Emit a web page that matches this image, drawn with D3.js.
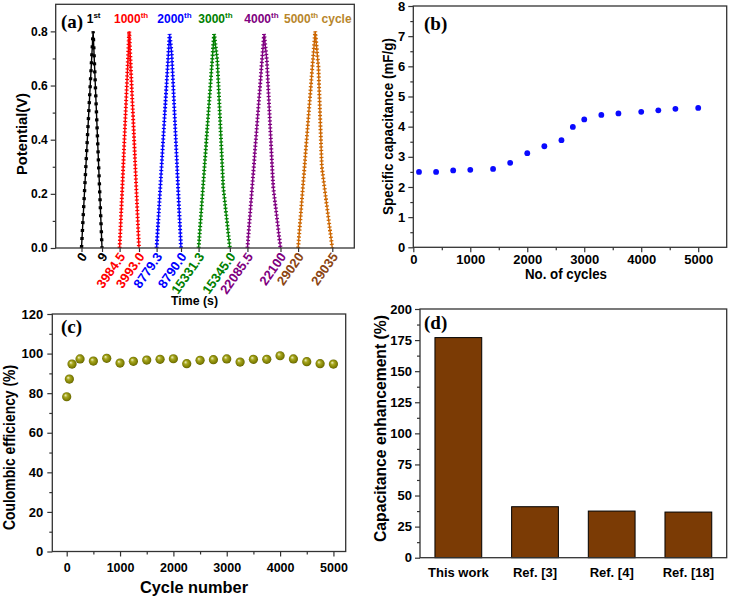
<!DOCTYPE html>
<html><head><meta charset="utf-8">
<script src="https://cdn.jsdelivr.net/npm/d3@7"></script>
<style>
body{margin:0;background:#fff}
svg{display:block}
</style>
</head><body>
<svg id="chart" width="732" height="598"></svg>
<script>
// ---------------- DATA ----------------
// (a) galvanostatic charge/discharge curves
const gcdCycles = ["1st", "1000th", "2000th", "3000th", "4000th", "5000th"];
const gcdTimes = [
  [0, 5.1, 9],
  [3984.5, 3988.7, 3993.0],
  [8779.3, 8785.0, 8785.9, 8790.0],
  [15331.3, 15338.1, 15339.5, 15342.1, 15345.0],
  [22085.5, 22092.8, 22094.0, 22096.8, 22100],
  [29020, 29027.5, 29028.9, 29030.4, 29035]
];
const gcdVolts = [
  [0, 0.80, 0],
  [0, 0.80, 0],
  [0, 0.79, 0.72, 0],
  [0, 0.79, 0.695, 0.226, 0],
  [0, 0.79, 0.695, 0.226, 0],
  [0, 0.80, 0.67, 0.30, 0]
];
const gcdTickLabels = ["0", "9", "3984.5", "3993.0", "8779.3", "8790.0", "15331.3", "15345.0", "22085.5", "22100", "29020", "29035"];
const gcdYTicks = [0, 0.2, 0.4, 0.6, 0.8];

// (b) specific capacitance vs cycles
const capCycles = [100, 400, 700, 1000, 1400, 1700, 2000, 2300, 2600, 2800, 3000, 3300, 3600, 4000, 4300, 4600, 5000];
const capValues = [2.50, 2.50, 2.55, 2.57, 2.60, 2.80, 3.12, 3.35, 3.55, 3.99, 4.24, 4.39, 4.44, 4.49, 4.54, 4.59, 4.62];

// (c) coulombic efficiency
const ceCycles = [0, 50, 100, 250, 500, 750, 1000, 1250, 1500, 1750, 2000, 2250, 2500, 2750, 3000, 3250, 3500, 3750, 4000, 4250, 4500, 4750, 5000];
const ceValues = [78.2, 87.1, 94.7, 97.3, 96.2, 97.6, 95.2, 96.1, 96.7, 97.1, 97.4, 94.9, 96.6, 96.9, 97.3, 95.7, 97.1, 97.1, 98.9, 97.3, 95.9, 94.9, 94.7];

// (d) capacitance enhancement
const enhCategories = ["This work", "Ref. [3]", "Ref. [4]", "Ref. [18]"];
const enhValues = [177, 41.0, 37.5, 36.7];

// ---------------- STYLE ----------------
const FONT = '"Liberation Sans", Arial, Helvetica, sans-serif';
const SERIF = '"Liberation Serif", "Times New Roman", serif';
const AX = "#333";
const curveColors = ["#000000", "#ff0000", "#0000ff", "#008000", "#800080", "#cc6600"];
const tickColors = ["#000000", "#ff0000", "#0000ff", "#008000", "#800080", "#8b4513"];
const noteColors = ["#000000", "#ff0000", "#0000ff", "#008000", "#800080", "#b8862b"];

const svg = d3.select("#chart");

function styleAxis(g, fs) {
  g.select("path.domain").remove();
  g.selectAll("line").attr("stroke", AX).attr("stroke-width", 1.2);
  g.selectAll("text").attr("font-family", FONT).attr("font-weight", "bold")
    .attr("font-size", fs).attr("fill", "#000");
  return g;
}
function frame(b) {
  svg.append("rect").attr("x", b.l).attr("y", b.t).attr("width", b.r - b.l).attr("height", b.b - b.t)
    .attr("fill", "none").attr("stroke", AX).attr("stroke-width", 1.3);
}
function minorTicks(axis, vals, transform) {
  const g = svg.append("g").attr("transform", transform).call(axis.tickValues(vals).tickSize(3).tickFormat(""));
  styleAxis(g, 10);
}
function title(txt, x, y, fs, len, rot) {
  const t = svg.append("text").attr("font-family", FONT).attr("font-weight", "bold").attr("font-size", fs)
    .attr("text-anchor", "middle").attr("textLength", len).attr("lengthAdjust", "spacingAndGlyphs").text(txt);
  if (rot) t.attr("transform", `translate(${x},${y}) rotate(-90)`);
  else t.attr("x", x).attr("y", y);
}
function panelLabel(txt, x, y) {
  svg.append("text").attr("x", x).attr("y", y).attr("font-family", SERIF).attr("font-weight", "bold")
    .attr("font-size", 19).text(txt);
}

// ---------------- PANEL (a) ----------------
{
  const box = {l: 55.7, r: 354.3, t: 4.3, b: 248};
  const ticks = gcdTickLabels.map(Number);
  const pxPerSec = 2.28, gapPx = 17.6, startPx = 81.5;
  const rng = [];
  let p = startPx;
  ticks.forEach((t, i) => {
    if (i > 0) p += (i % 2 === 1) ? (t - ticks[i - 1]) * pxPerSec : gapPx;
    rng.push(p);
  });
  const x = d3.scaleLinear().domain(ticks).range(rng);
  const y = d3.scaleLinear().domain([0, 0.9]).range([box.b, box.t]);
  const line = d3.line().x(d => x(d[0])).y(d => y(d[1]));

  gcdTimes.forEach((ts, k) => {
    const pts = ts.map((t, i) => [t, gcdVolts[k][i]]);
    svg.append("path").attr("d", line(pts)).attr("fill", "none")
      .attr("stroke", curveColors[k]).attr("stroke-width", 1.4);
    svg.append("path").attr("d", line(pts)).attr("fill", "none")
      .attr("stroke", curveColors[k]).attr("stroke-width", k === 0 ? 3.4 : 4)
      .attr("stroke-dasharray", k === 0 ? "3 5" : "1.3 2.2");
  });

  const gy = svg.append("g").attr("transform", `translate(${box.l},0)`)
    .call(d3.axisLeft(y).tickValues(gcdYTicks).tickFormat(d3.format(".1f")).tickSize(5).tickPadding(3));
  styleAxis(gy, 12);
  minorTicks(d3.axisLeft(y), [0.1, 0.3, 0.5, 0.7], `translate(${box.l},0)`);

  const gx = svg.append("g").attr("transform", `translate(0,${box.b})`)
    .call(d3.axisBottom(x).tickValues(ticks).tickFormat((d, i) => gcdTickLabels[i]).tickSize(4));
  styleAxis(gx, 13);
  gx.selectAll("text")
    .attr("x", 0).attr("y", 0).attr("dy", "0.35em").attr("text-anchor", "end")
    .attr("transform", "translate(2,6) rotate(-55)")
    .attr("fill", (d, i) => tickColors[Math.floor(i / 2)]);
  frame(box);

  title("Potential(V)", 26.7, 134, 15, 82, true);
  title("Time (s)", 194.5, 305, 13.5, 47, false);
  panelLabel("(a)", 61, 28);

  // cycle annotations
  const noteX = [86.7, 114, 157.3, 198.3, 244.3, 284];
  gcdCycles.forEach((c, k) => {
    const num = c.replace(/(st|th)$/, "");
    const sup = c.slice(num.length);
    const t = svg.append("text").attr("x", noteX[k]).attr("y", 23).attr("font-family", FONT)
      .attr("font-weight", "bold").attr("font-size", 12).attr("fill", noteColors[k]);
    t.append("tspan").text(num);
    t.append("tspan").attr("font-size", 8).attr("dy", -5).text(sup);
    if (k === gcdCycles.length - 1) t.append("tspan").attr("dy", 5).text(" cycle");
  });
}

// ---------------- PANEL (b) ----------------
{
  const box = {l: 413.3, r: 726.7, t: 6, b: 247.3};
  const x = d3.scaleLinear().domain([0, 5500]).range([box.l, box.r]);
  const y = d3.scaleLinear().domain([0, 8]).range([box.b, box.t]);
  const gy = svg.append("g").attr("transform", `translate(${box.l},0)`)
    .call(d3.axisLeft(y).tickValues(d3.range(0, 9, 1)).tickFormat(d3.format("d")).tickSize(5).tickPadding(3));
  styleAxis(gy, 13);
  minorTicks(d3.axisLeft(y), d3.range(0.5, 8, 1), `translate(${box.l},0)`);
  const gx = svg.append("g").attr("transform", `translate(0,${box.b})`)
    .call(d3.axisBottom(x).tickValues(d3.range(0, 5001, 1000)).tickFormat(d3.format("d")).tickSize(5).tickPadding(2));
  styleAxis(gx, 13);
  minorTicks(d3.axisBottom(x), d3.range(500, 5500, 1000), `translate(0,${box.b})`);
  frame(box);
  svg.append("g").selectAll("circle").data(capCycles).join("circle")
    .attr("cx", d => x(d)).attr("cy", (d, i) => y(capValues[i])).attr("r", 2.9)
    .attr("fill", "#0a0aff");
  title("Specific capacitance (mF/g)", 393.3, 126.5, 15, 177, true);
  title("No. of cycles", 566, 279, 14, 82, false);
  panelLabel("(b)", 424, 30);
}

// ---------------- PANEL (c) ----------------
{
  const box = {l: 52.3, r: 345.7, t: 314, b: 551.5};
  const x = d3.scaleLinear().domain([-270, 5230]).range([box.l, box.r]);
  const y = d3.scaleLinear().domain([0, 120]).range([box.b, box.t]);
  const gy = svg.append("g").attr("transform", `translate(${box.l},0)`)
    .call(d3.axisLeft(y).tickValues(d3.range(0, 121, 20)).tickFormat(d3.format("d")).tickSize(5).tickPadding(4));
  styleAxis(gy, 13);
  minorTicks(d3.axisLeft(y), d3.range(10, 120, 20), `translate(${box.l},0)`);
  const gx = svg.append("g").attr("transform", `translate(0,${box.b})`)
    .call(d3.axisBottom(x).tickValues(d3.range(0, 5001, 1000)).tickFormat(d3.format("d")).tickSize(5).tickPadding(7));
  styleAxis(gx, 12.5);
  minorTicks(d3.axisBottom(x), d3.range(500, 5000, 1000), `translate(0,${box.b})`);
  frame(box);

  const defs = svg.append("defs");
  const grad = defs.append("radialGradient").attr("id", "sphere")
    .attr("cx", "50%").attr("cy", "50%").attr("r", "55%").attr("fx", "35%").attr("fy", "32%");
  grad.append("stop").attr("offset", "0%").attr("stop-color", "#f2f2c8");
  grad.append("stop").attr("offset", "35%").attr("stop-color", "#a8a820");
  grad.append("stop").attr("offset", "80%").attr("stop-color", "#7a7a00");
  grad.append("stop").attr("offset", "100%").attr("stop-color", "#4e4e00");
  svg.append("g").selectAll("circle").data(ceCycles).join("circle")
    .attr("cx", d => x(d)).attr("cy", (d, i) => y(ceValues[i])).attr("r", 4.6)
    .attr("fill", "url(#sphere)");
  title("Coulombic efficiency (%)", 15, 447.5, 16, 165, true);
  title("Cycle number", 194, 592.7, 17, 108, false);
  panelLabel("(c)", 61, 333);
}

// ---------------- PANEL (d) ----------------
{
  const box = {l: 420, r: 726.7, t: 309, b: 557.7};
  const x = d3.scaleBand().domain(enhCategories).range([box.l, box.r]).paddingInner(0.39).paddingOuter(0.195);
  const y = d3.scaleLinear().domain([0, 200]).range([box.b, box.t]);
  svg.append("g").selectAll("rect").data(enhCategories).join("rect")
    .attr("x", d => x(d)).attr("width", x.bandwidth())
    .attr("y", (d, i) => y(enhValues[i])).attr("height", (d, i) => box.b - y(enhValues[i]))
    .attr("fill", "#7b3b05").attr("stroke", "#000").attr("stroke-width", 1);
  const gy = svg.append("g").attr("transform", `translate(${box.l},0)`)
    .call(d3.axisLeft(y).tickValues(d3.range(0, 201, 25)).tickFormat(d3.format("d")).tickSize(5).tickPadding(3));
  styleAxis(gy, 13);
  minorTicks(d3.axisLeft(y), d3.range(12.5, 200, 25), `translate(${box.l},0)`);
  const gx = svg.append("g").attr("transform", `translate(0,${box.b})`)
    .call(d3.axisBottom(x).tickSize(0).tickPadding(10));
  styleAxis(gx, 13);
  frame(box);
  title("Capacitance enhancement (%)", 386, 428.5, 16, 227, true);
  panelLabel("(d)", 424, 329);
}
</script>
</body></html>
